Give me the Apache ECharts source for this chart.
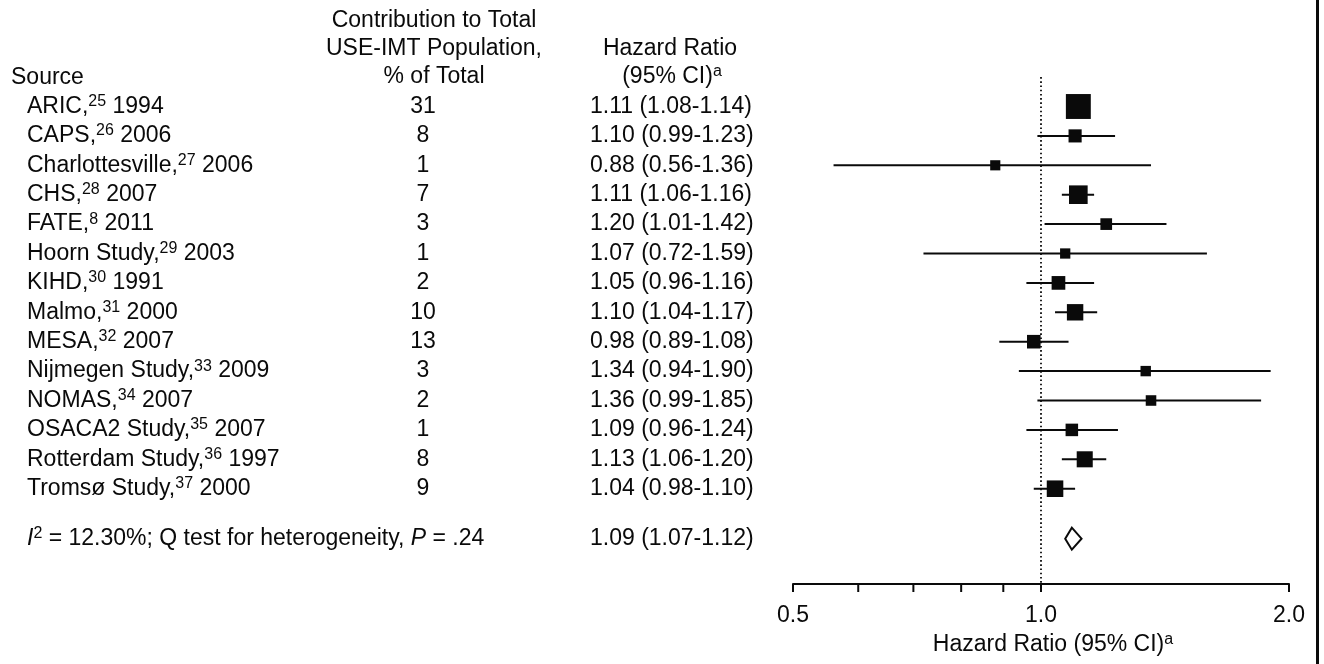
<!DOCTYPE html>
<html><head><meta charset="utf-8">
<script src="https://cdn.jsdelivr.net/npm/echarts@6/dist/echarts.min.js"></script>
<style>html,body{margin:0;padding:0;background:#fff}#c{width:1324px;height:664px}</style>
</head><body><div id="c"></div>
<script>
// ---------------- data ----------------
const studies = ['ARIC','CAPS','Charlottesville','CHS','FATE','Hoorn Study','KIHD','Malmo','MESA','Nijmegen Study','NOMAS','OSACA2 Study','Rotterdam Study','Tromsø Study'];
const refs = ['25','26','27','28','8','29','30','31','32','33','34','35','36','37'];
const years = ['1994','2006','2006','2007','2011','2003','1991','2000','2007','2009','2007','2007','1997','2000'];
const contribution = [31,8,1,7,3,1,2,10,13,3,2,1,8,9];
const hazardRatio = [1.11,1.10,0.88,1.11,1.20,1.07,1.05,1.10,0.98,1.34,1.36,1.09,1.13,1.04];
const ciLow = [1.08,0.99,0.56,1.06,1.01,0.72,0.96,1.04,0.89,0.94,0.99,0.96,1.06,0.98];
const ciHigh = [1.14,1.23,1.36,1.16,1.42,1.59,1.16,1.17,1.08,1.90,1.85,1.24,1.20,1.10];
const pooledHR = 1.09, pooledLow = 1.07, pooledHigh = 1.12;
const iSquared = '12.30%';
const pHeterogeneity = '.24';
const xTickValues = [0.5, 1.0, 2.0];
const xMinorTickValues = [0.6, 0.7, 0.8, 0.9];

// ---------------- layout ----------------
const W = 1324, H = 664;
const ROW0 = 106.5, ROWH = 29.4, AXIS_Y = 584;
const PLOT_L = 793, PLOT_R = 1289;
const yMin = -ROW0 / ROWH, yMax = (AXIS_Y - ROW0) / ROWH;
const SUMMARY_ROW = 14.7;
const COL_NAME = 27, COL_CONTRIB = 423, COL_HR = 590, COL_SOURCE = 11, HEAD_CONTRIB = 434;
const FONT = "'Liberation Sans', Arial, Helvetica, sans-serif";
const FS = 23, SUP = 16;
const TXT = '#0a0a0a';

const rich = {
  n: {fontSize: FS, fontFamily: FONT, fill: TXT, color: TXT, lineHeight: 26},
  it: {fontSize: FS, fontFamily: FONT, fontStyle: 'italic', fill: TXT, color: TXT, lineHeight: 26},
  s: {fontSize: SUP, fontFamily: FONT, fill: TXT, color: TXT, lineHeight: 16, verticalAlign: 'top'}
};
const fmt = v => v.toFixed(2);
const hrText = i => fmt(hazardRatio[i]) + ' (' + fmt(ciLow[i]) + '-' + fmt(ciHigh[i]) + ')';
const nameText = i => '{n|' + studies[i] + ',}{s|' + refs[i] + '}{n| ' + years[i] + '}';
const boxSize = i => 9.2 + 0.85 / Math.log(ciHigh[i] / ciLow[i]);
const rows = studies.map((s, i) => i);

function textEl(x, y, text, align) {
  return {type: 'text', style: {x: x, y: y, text: text, rich: rich, align: align, textAlign: align,
    verticalAlign: 'middle', textVerticalAlign: 'middle', fontSize: FS, fontFamily: FONT, fill: TXT}};
}

const chart = echarts.init(document.getElementById('c'), null, {renderer: 'canvas'});
chart.setOption({
  backgroundColor: '#fff',
  animation: false,
  grid: {left: PLOT_L, right: W - PLOT_R, top: 0, bottom: H - AXIS_Y, containLabel: false},
  xAxis: {
    type: 'log', logBase: 2, min: 0.5, max: 2, splitNumber: 2, position: 'bottom',
    name: '{n|Hazard Ratio (95% CI)}{s|a}', nameLocation: 'middle', nameGap: 42,
    nameTextStyle: {rich: rich, padding: [0, 0, 0, 24]},
    axisLine: {onZero: false, lineStyle: {color: TXT, width: 2}},
    axisTick: {length: 8, lineStyle: {color: TXT, width: 2}},
    splitLine: {show: false},
    axisLabel: {fontSize: FS, fontFamily: FONT, color: TXT, margin: 20,
      formatter: v => xTickValues.some(t => Math.abs(t - v) < 1e-9) ? Number(v).toFixed(1) : ''}
  },
  yAxis: {type: 'value', inverse: true, min: yMin, max: yMax, show: false},
  graphic: [
    {type: 'rect', shape: {x: 1316, y: 0, width: 3, height: H}, style: {fill: TXT}},
    {type: 'text', x: COL_SOURCE, y: 78, style: {text: 'Source', fontSize: FS, fontFamily: FONT, fill: TXT, verticalAlign: 'middle'}},
    {type: 'text', x: HEAD_CONTRIB, y: 21, style: {text: 'Contribution to Total', fontSize: FS, fontFamily: FONT, fill: TXT, align: 'center', verticalAlign: 'middle'}},
    {type: 'text', x: HEAD_CONTRIB, y: 49, style: {text: 'USE-IMT Population,', fontSize: FS, fontFamily: FONT, fill: TXT, align: 'center', verticalAlign: 'middle'}},
    {type: 'text', x: HEAD_CONTRIB, y: 77, style: {text: '% of Total', fontSize: FS, fontFamily: FONT, fill: TXT, align: 'center', verticalAlign: 'middle'}},
    {type: 'text', x: 670, y: 49, style: {text: 'Hazard Ratio', fontSize: FS, fontFamily: FONT, fill: TXT, align: 'center', verticalAlign: 'middle'}},
    {type: 'text', x: 672, y: 77, style: {text: '{n|(95% CI)}{s|a}', rich: rich, align: 'center', verticalAlign: 'middle'}}
  ],
  series: [
    { // study names
      type: 'custom', silent: true, data: rows,
      renderItem: (p, api) => textEl(COL_NAME, api.coord([1, api.value(0)])[1], nameText(p.dataIndex), 'left')
    },
    { // contribution %
      type: 'custom', silent: true, data: rows,
      renderItem: (p, api) => textEl(COL_CONTRIB, api.coord([1, api.value(0)])[1], '{n|' + contribution[p.dataIndex] + '}', 'center')
    },
    { // HR text
      type: 'custom', silent: true, data: rows,
      renderItem: (p, api) => textEl(COL_HR, api.coord([1, api.value(0)])[1], '{n|' + hrText(p.dataIndex) + '}', 'left')
    },
    { // summary texts
      type: 'custom', silent: true, data: [SUMMARY_ROW],
      renderItem: (p, api) => {
        const y = api.coord([1, api.value(0)])[1];
        return {type: 'group', children: [
          textEl(COL_NAME, y, '{it|I}{s|2}{n| = ' + iSquared + '; Q test for heterogeneity, }{it|P}{n| = ' + pHeterogeneity + '}', 'left'),
          textEl(COL_HR, y, '{n|' + fmt(pooledHR) + ' (' + fmt(pooledLow) + '-' + fmt(pooledHigh) + ')}', 'left')
        ]};
      }
    },
    { // reference line at HR = 1
      type: 'custom', silent: true, data: [[1]],
      renderItem: (p, api) => {
        const a = api.coord([api.value(0), -1]);
        const b = api.coord([api.value(0), yMax]);
        return {type: 'line', shape: {x1: a[0], y1: a[1], x2: b[0], y2: b[1]},
          style: {stroke: TXT, lineWidth: 1.8, lineDash: [1.6, 2.6]}};
      }
    },
    { // minor ticks
      type: 'custom', silent: true, data: xMinorTickValues.map(v => [v]),
      renderItem: (p, api) => {
        const a = api.coord([api.value(0), yMax]);
        return {type: 'line', shape: {x1: a[0], y1: a[1], x2: a[0], y2: a[1] + 8},
          style: {stroke: TXT, lineWidth: 2}};
      }
    },
    { // CI lines
      type: 'custom', silent: true,
      data: rows.map(i => [ciLow[i], ciHigh[i], i]),
      renderItem: (p, api) => {
        const a = api.coord([api.value(0), api.value(2)]);
        const b = api.coord([api.value(1), api.value(2)]);
        return {type: 'line', shape: {x1: a[0], y1: a[1], x2: b[0], y2: b[1]},
          style: {stroke: TXT, lineWidth: 2}};
      }
    },
    { // point estimate boxes
      type: 'scatter', silent: true, symbol: 'rect',
      data: rows.map(i => [hazardRatio[i], i]),
      symbolSize: (v, p) => boxSize(p.dataIndex),
      itemStyle: {color: TXT, opacity: 1}
    },
    { // pooled diamond
      type: 'custom', silent: true, data: [[pooledLow, pooledHR, pooledHigh, SUMMARY_ROW]],
      renderItem: (p, api) => {
        const r = api.value(3);
        const l = api.coord([api.value(0), r]);
        const c = api.coord([api.value(1), r]);
        const h = api.coord([api.value(2), r]);
        return {type: 'polygon', shape: {points: [[l[0], l[1]], [c[0], c[1] - 11], [h[0], h[1]], [c[0], c[1] + 11]]},
          style: {fill: '#fff', stroke: TXT, lineWidth: 2}};
      }
    }
  ]
});
</script></body></html>
